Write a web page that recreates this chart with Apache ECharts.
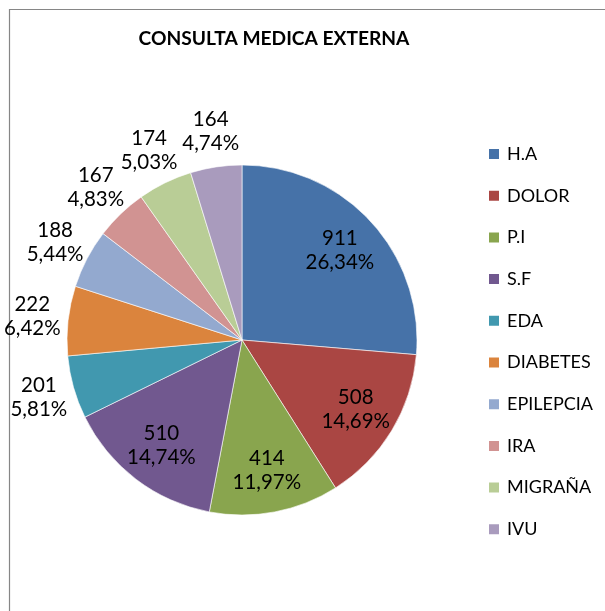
<!DOCTYPE html>
<html>
<head>
<meta charset="utf-8">
<script src="https://cdn.jsdelivr.net/npm/echarts@6/dist/echarts.min.js"></script>
<style>
  html, body { margin: 0; padding: 0; background: #fff; }
  #chart { width: 605px; height: 611px; }
</style>
</head>
<body>
<div id="chart"></div>
<script>
// data
const categories = ["H.A", "DOLOR", "P.I", "S.F", "EDA", "DIABETES", "EPILEPCIA", "IRA", "MIGRAÑA", "IVU"];
const values = [911, 508, 414, 510, 201, 222, 188, 167, 174, 164];
const insideLabels = [true, true, true, true, false, false, false, false, false, false];

const colors = ["#4672A8", "#AA4643", "#89A54E", "#71588F", "#4198AF",
                "#DB843D", "#93A9CF", "#D19392", "#B9CD96", "#A99BBD"];

const total = values.reduce((a, b) => a + b, 0);
const fontFam = "Lato, 'Open Sans', sans-serif";

const chartDom = document.getElementById("chart");
const myChart = echarts.init(chartDom);

const labelFmt = (p) => p.value + "\n" + (p.value / total * 100).toFixed(2).replace(".", ",") + "%";

// label-only rings so text sits where Excel puts it
function labelSeries(radius, showInside, padTop) {
  return {
    type: "pie",
    silent: true,
    startAngle: 90,
    clockwise: true,
    center: [242, 340],
    radius: radius,
    avoidLabelOverlap: false,
    labelLayout: { hideOverlap: false },
    itemStyle: { color: "transparent", borderWidth: 0 },
    emphasis: { disabled: true },
    labelLine: { show: false },
    data: categories.map((c, i) => ({
      name: c,
      value: values[i],
      label: { show: insideLabels[i] === showInside }
    })),
    label: {
      position: "inside",
      formatter: labelFmt,
      color: "#000",
      fontSize: 20.5,
      lineHeight: 24,
      fontFamily: fontFam,
      align: "center",
      padding: [padTop, 0, 0, 0]
    }
  };
}

const option = {
  animation: false,
  color: colors,
  title: {
    text: "CONSULTA MEDICA EXTERNA",
    left: 269,
    textAlign: "center",
    top: 24,
    textStyle: { fontSize: 19.2, fontWeight: "bold", color: "#000", fontFamily: fontFam }
  },
  legend: {
    orient: "vertical",
    left: 482,
    top: 139,
    icon: "rect",
    itemWidth: 12,
    itemHeight: 12,
    itemGap: 21.7,
    data: categories,
    selectedMode: false,
    textStyle: {
      fontSize: 18,
      lineHeight: 20,
      color: "#000",
      fontFamily: fontFam,
      padding: [0, 0, 0, 2]
    }
  },
  graphic: [{
    type: "rect",
    silent: true,
    shape: { x: 9.5, y: 9.5, width: 800, height: 800 },
    style: { fill: "none", stroke: "#868686", lineWidth: 1.2 }
  }],
  series: [
    {
      type: "pie",
      startAngle: 90,
      clockwise: true,
      center: [242, 340],
      radius: [0, 175],
      label: { show: false },
      labelLine: { show: false },
      itemStyle: { borderColor: "#fff", borderWidth: 0.6 },
      emphasis: { disabled: true },
      data: categories.map((c, i) => ({ name: c, value: values[i] }))
    },
    labelSeries([85, 175], true, 10),
    labelSeries([175, 241], false, 6)
  ]
};

myChart.setOption(option);
</script>
</body>
</html>
